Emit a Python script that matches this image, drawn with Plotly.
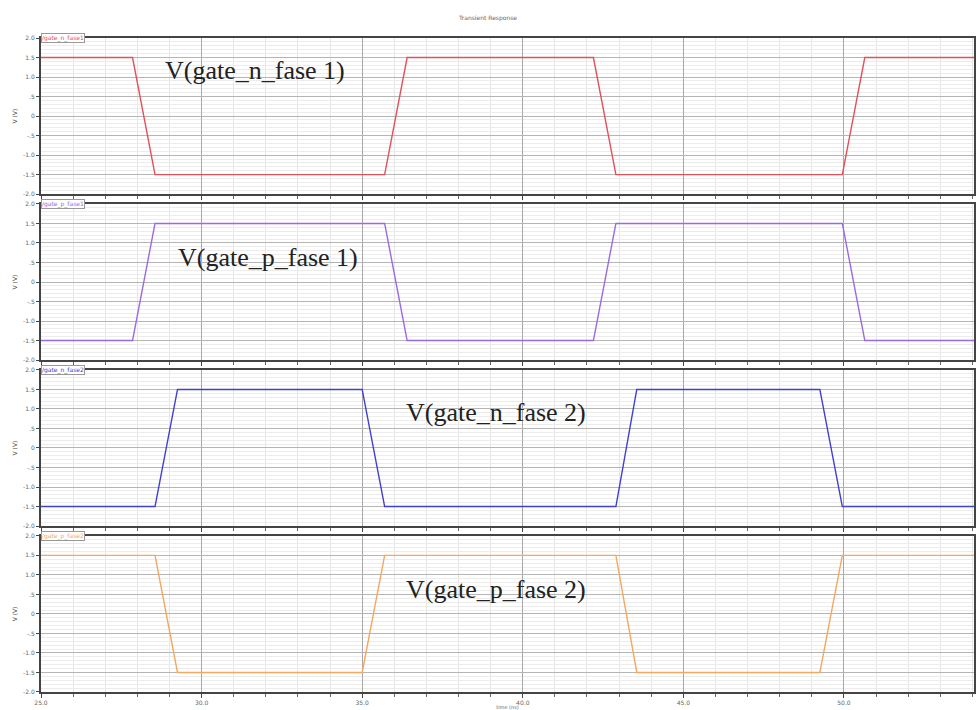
import plotly.graph_objects as go
from plotly.subplots import make_subplots

# Breakpoints of the gate drive waveforms (time in ns, voltage in V)
t_fase1 = [25.0, 27.85, 28.55, 35.7, 36.4, 42.2, 42.9, 49.95, 50.65, 54.05]
v_gate_n_fase1 = [1.5, 1.5, -1.5, -1.5, 1.5, 1.5, -1.5, -1.5, 1.5, 1.5]
v_gate_p_fase1 = [-1.5, -1.5, 1.5, 1.5, -1.5, -1.5, 1.5, 1.5, -1.5, -1.5]

t_fase2 = [25.0, 28.55, 29.25, 35.0, 35.7, 42.9, 43.55, 49.25, 49.95, 54.05]
v_gate_n_fase2 = [-1.5, -1.5, 1.5, 1.5, -1.5, -1.5, 1.5, 1.5, -1.5, -1.5]
v_gate_p_fase2 = [1.5, 1.5, -1.5, -1.5, 1.5, 1.5, -1.5, -1.5, 1.5, 1.5]

series_names = ["/gate_n_fase1", "/gate_p_fase1", "/gate_n_fase2", "/gate_p_fase2"]
panel_labels = ["V(gate_n_fase 1)", "V(gate_p_fase 1)", "V(gate_n_fase 2)", "V(gate_p_fase 2)"]
colors = ["#e2505a", "#9a6ae0", "#4040d0", "#f3a860"]

x_ticks = [25.0, 30.0, 35.0, 40.0, 45.0, 50.0]
x_tick_text = ["25.0", "30.0", "35.0", "40.0", "45.0", "50.0"]
y_ticks = [2.0, 1.5, 1.0, 0.5, 0.0, -0.5, -1.0, -1.5, -2.0]
y_tick_text = ["2.0", "1.5", "1.0", ".5", "0", "-.5", "-1.0", "-1.5", "-2.0"]

traces = [
    (t_fase1, v_gate_n_fase1),
    (t_fase1, v_gate_p_fase1),
    (t_fase2, v_gate_n_fase2),
    (t_fase2, v_gate_p_fase2),
]

fig = make_subplots(rows=4, cols=1, shared_xaxes=True, vertical_spacing=0.015)

for i, ((t, v), name, color) in enumerate(zip(traces, series_names, colors), start=1):
    fig.add_trace(
        go.Scatter(x=t, y=v, mode="lines", name=name,
                   line=dict(color=color, width=1.4), showlegend=False,
                   cliponaxis=False),
        row=i, col=1,
    )
    fig.update_yaxes(
        range=[-2.0, 2.0], tickvals=y_ticks, ticktext=y_tick_text,
        tickfont=dict(size=6, color="#666"), ticks="outside", ticklen=3,
        tickcolor="#444",
        showgrid=True, gridcolor="#b5b5b5", gridwidth=1,
        minor=dict(dtick=0.1, showgrid=True, gridcolor="#ececec", gridwidth=1),
        showline=True, linecolor="#444", linewidth=2, mirror=True,
        zeroline=False,
        title=dict(text="V (V)", font=dict(size=6, color="#444"), standoff=5),
        row=i, col=1,
    )
    fig.update_xaxes(
        range=[25.0, 54.05], tickvals=x_ticks, ticktext=x_tick_text,
        showgrid=True, gridcolor="#a8a8a8", gridwidth=1,
        minor=dict(dtick=1.0, showgrid=True, gridcolor="#e6e6e6", gridwidth=1,
                   ticks="outside", ticklen=3, tickcolor="#666"),
        showline=True, linecolor="#444", linewidth=2, mirror=True,
        zeroline=False, ticks="outside", ticklen=4, tickcolor="#444",
        tickfont=dict(size=6, color="#666"),
        showticklabels=(i == 4),
        row=i, col=1,
    )

fig.update_xaxes(title=dict(text="time (ns)", font=dict(size=5, color="#666"), standoff=0),
                 row=4, col=1)

# Signal labels inside each panel
label_pos = [(0.229, 0.951), (0.243, 0.665), (0.488, 0.427), (0.488, 0.156)]
for label, (lx, ly) in zip(panel_labels, label_pos):
    fig.add_annotation(text=label, x=lx, y=ly, xref="paper", yref="paper",
                       showarrow=False, xanchor="center", yanchor="middle",
                       font=dict(family="Liberation Serif", size=26, color="#222"))

# Small legend tags on the top-left corner of each panel
for i, (name, color) in enumerate(zip(series_names, colors), start=1):
    dom = fig.layout[f"yaxis{'' if i == 1 else i}"].domain
    fig.add_annotation(text=name, x=0.0, y=dom[1], xref="paper", yref="paper",
                       showarrow=False, xanchor="left", yanchor="middle",
                       font=dict(size=6, color=color), bgcolor="white",
                       bordercolor="#999", borderwidth=1, borderpad=0)

fig.update_layout(
    width=976, height=710,
    margin=dict(l=41, r=0, t=38, b=18),
    paper_bgcolor="white", plot_bgcolor="white",
    title=dict(text="Transient Response", x=0.5, y=0.978, xanchor="center",
               font=dict(size=6, color="#666")),
    font=dict(family="DejaVu Sans"),
)

fig.write_html("out.html")
